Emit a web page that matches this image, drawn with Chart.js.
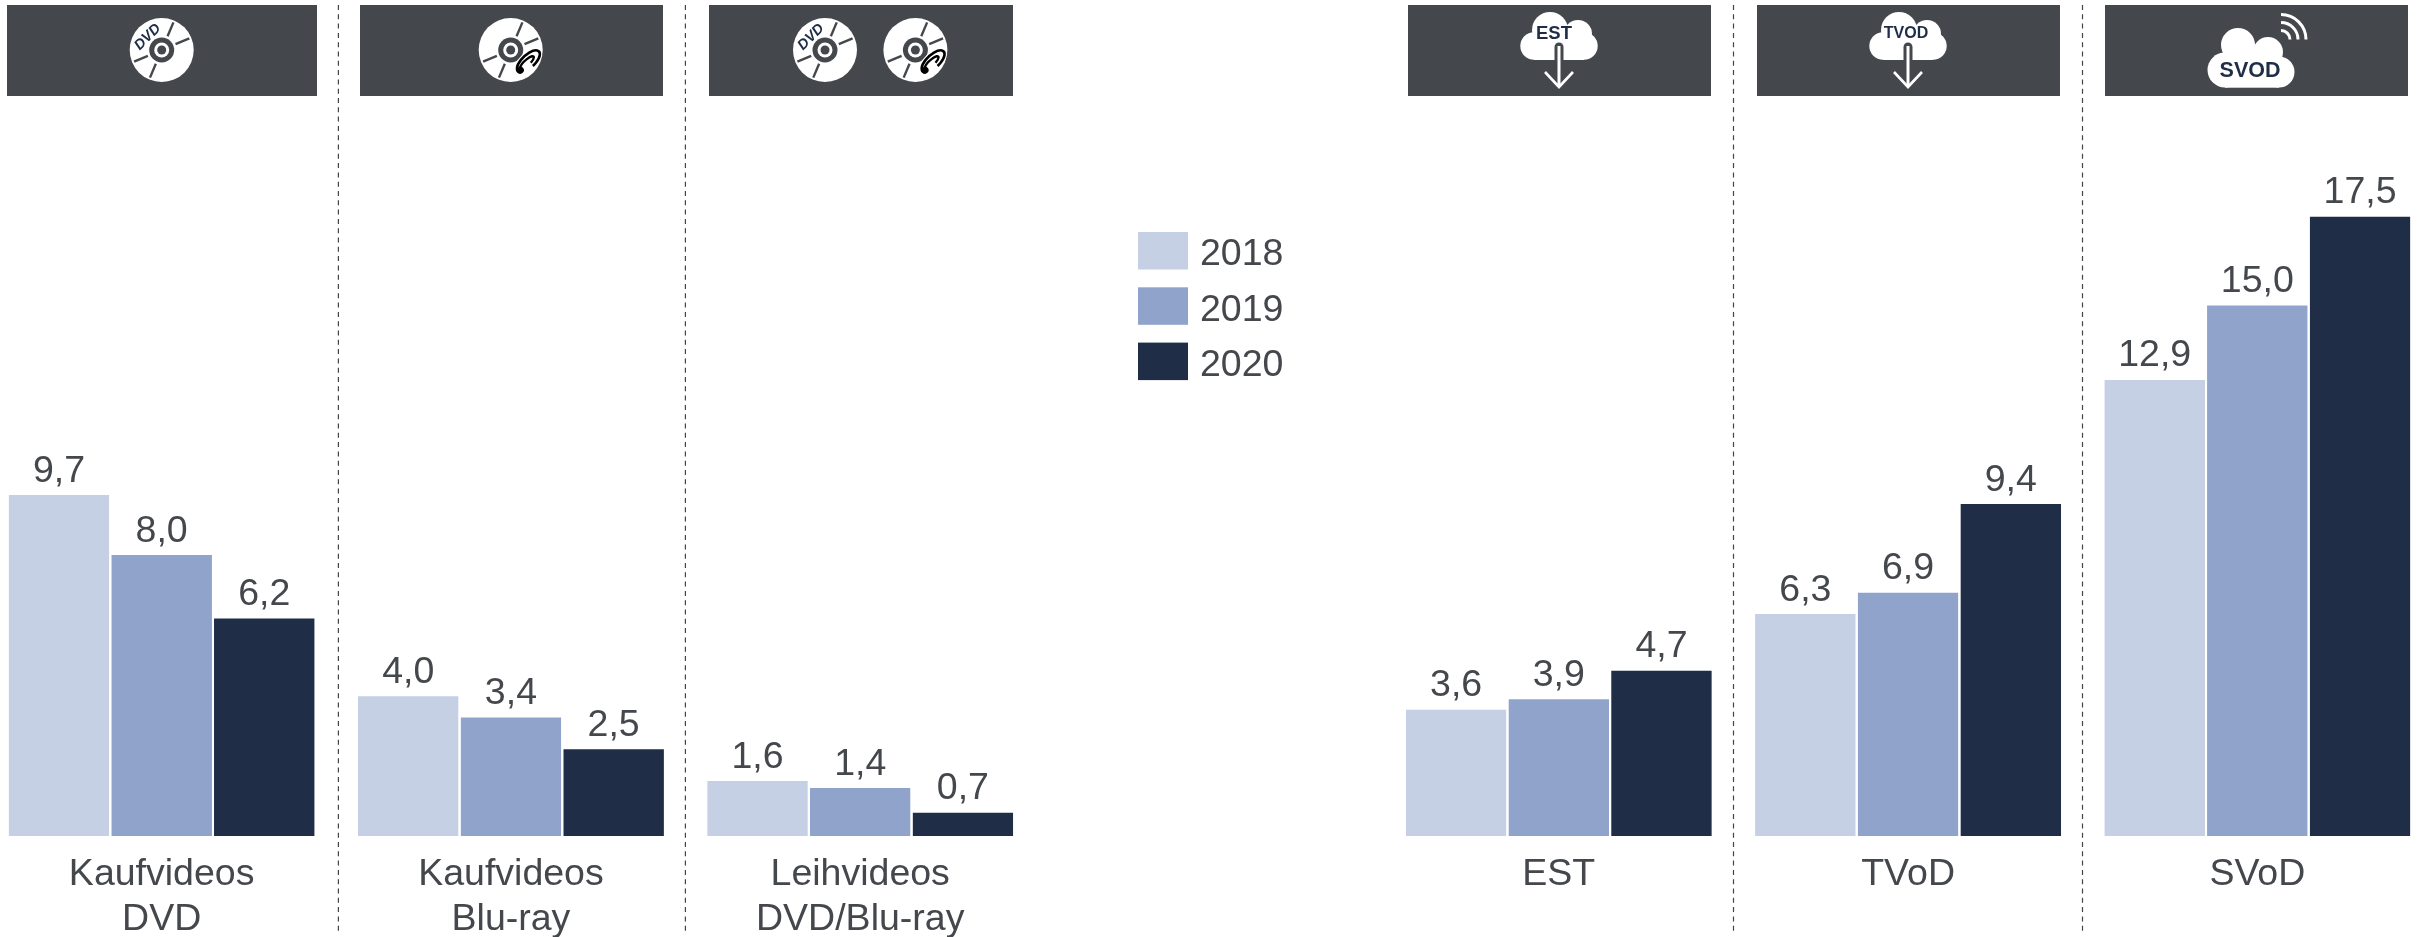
<!DOCTYPE html>
<html>
<head>
<meta charset="utf-8">
<style>
html,body{margin:0;padding:0;background:#fff;overflow:hidden;width:2428px;height:937px}
#wrap{position:absolute;left:-13px;top:0;width:2445px;height:937px}
</style>
<script src="https://cdn.jsdelivr.net/npm/chart.js@4/dist/chart.umd.min.js"></script>
</head>
<body>
<div id="wrap"><canvas id="c" width="2445" height="937"></canvas></div>
<script>
const categories = [["Kaufvideos","DVD"],["Kaufvideos","Blu-ray"],["Leihvideos","DVD/Blu-ray"],"",["EST"],["TVoD"],["SVoD"]];
const seriesNames = ["2018","2019","2020"];
const values2018 = [9.7,4.0,1.6,null,3.6,6.3,12.9];
const values2019 = [8.0,3.4,1.4,null,3.9,6.9,15.0];
const values2020 = [6.2,2.5,0.7,null,4.7,9.4,17.5];

const TXT = '#44474c', DARK = '#44474c', NAVY = '#1f2d47';
const FONT = '"Liberation Sans", Arial, sans-serif';
const colors = ['#c5d0e5','#90a4cb','#1f2d47'];

function disc(ctx, cx, cy, kind){
  ctx.save();
  ctx.translate(cx, cy);
  ctx.fillStyle = '#fff';
  ctx.beginPath(); ctx.arc(0,0,32,0,Math.PI*2); ctx.fill();
  ctx.fillStyle = DARK;
  ctx.beginPath(); ctx.arc(0,0,12.5,0,Math.PI*2); ctx.fill();
  ctx.fillStyle = '#fff';
  ctx.beginPath(); ctx.arc(0,0,7.5,0,Math.PI*2); ctx.fill();
  ctx.fillStyle = DARK;
  ctx.beginPath(); ctx.arc(0,0,4.5,0,Math.PI*2); ctx.fill();
  ctx.strokeStyle = DARK; ctx.lineWidth = 2.4;
  [67,23,247,203].forEach(a=>{
    const r = a*Math.PI/180, c = Math.cos(r), s = -Math.sin(r);
    ctx.beginPath(); ctx.moveTo(c*15,s*15); ctx.lineTo(c*30,s*30); ctx.stroke();
  });
  if(kind==='dvd'){
    ctx.save();
    ctx.translate(-14,-13); ctx.rotate(-Math.PI/4);
    ctx.font = 'italic bold 14.5px '+FONT; ctx.fillStyle = NAVY;
    ctx.textAlign='center'; ctx.textBaseline='middle';
    ctx.fillText('DVD',0,0);
    ctx.restore();
  } else {
    ctx.save();
    ctx.translate(17,12); ctx.rotate(-Math.PI*0.24);
    ctx.fillStyle='#fff';
    ctx.beginPath(); ctx.ellipse(0,0,17,9,0,0,Math.PI*2); ctx.fill();
    ctx.strokeStyle='#000'; ctx.lineWidth=2.6;
    ctx.beginPath(); ctx.ellipse(1,0,14.5,6.5,0,Math.PI*0.9,Math.PI*2.5); ctx.stroke();
    ctx.lineWidth=2.4;
    ctx.beginPath(); ctx.ellipse(-1,0,9,2.8,0,Math.PI*1.1,Math.PI*2.4); ctx.stroke();
    ctx.fillStyle='#000';
    ctx.beginPath(); ctx.ellipse(-11,1,3.5,3.5,0,0,Math.PI*2); ctx.fill();
    ctx.restore();
  }
  ctx.restore();
}

function cloudDown(ctx, cx, label, size, textDx){
  ctx.save();
  ctx.translate(cx, 0);
  ctx.fillStyle = '#fff';
  [[-9,30,18],[19,34,14],[-25,46,13.7],[25,46,13.7]].forEach(c=>{
    ctx.beginPath(); ctx.arc(c[0],c[1],c[2],0,Math.PI*2); ctx.fill();
  });
  ctx.fillRect(-25,34,50,26);
  ctx.strokeStyle = DARK; ctx.lineWidth = 9; ctx.lineCap='round';
  ctx.beginPath(); ctx.moveTo(0,47); ctx.lineTo(0,66); ctx.stroke();
  ctx.strokeStyle = '#fff'; ctx.lineWidth = 3; ctx.lineCap='butt';
  ctx.beginPath(); ctx.moveTo(0,46); ctx.lineTo(0,86); ctx.stroke();
  ctx.lineWidth = 2.6;
  ctx.beginPath(); ctx.moveTo(-14,72); ctx.lineTo(0,87); ctx.lineTo(14,72); ctx.stroke();
  ctx.font = 'bold '+size+'px '+FONT; ctx.fillStyle = NAVY;
  ctx.textAlign='center'; ctx.textBaseline='middle';
  ctx.fillText(label,textDx,33.5);
  ctx.restore();
}

function cloudS(ctx, cx){
  ctx.save();
  ctx.translate(cx, 0);
  ctx.fillStyle = '#fff';
  [[-12,45,17],[18,52,15],[-25,70,17.5],[29,72,15.5]].forEach(c=>{
    ctx.beginPath(); ctx.arc(c[0],c[1],c[2],0,Math.PI*2); ctx.fill();
  });
  ctx.fillRect(-25,60,54,27.7);
  ctx.fillRect(-26,48,50,30);
  ctx.font = 'bold 21.5px '+FONT; ctx.fillStyle = NAVY;
  ctx.textAlign='center'; ctx.textBaseline='middle';
  ctx.fillText('SVOD',0,71);
  ctx.strokeStyle = '#fff'; ctx.lineWidth = 3;
  [9,17,25].forEach(r=>{
    ctx.beginPath(); ctx.arc(31,39.5,r,-Math.PI/2,0); ctx.stroke();
  });
  ctx.restore();
}

const decor = {
  id:'decor',
  beforeDatasetsDraw(chart){
    const ctx = chart.ctx;
    ctx.save();
    ctx.translate(13,0);
    ctx.fillStyle = DARK;
    [[7,310],[360,303],[709,304],[1408,303],[1757,303],[2105,303]].forEach(r=>ctx.fillRect(r[0],5,r[1],91));
    ctx.strokeStyle = '#444'; ctx.lineWidth = 1.2; ctx.setLineDash([5,4.3]);
    [338.4,685.4,1733.5,2082.5].forEach(x=>{
      ctx.beginPath(); ctx.moveTo(x,5); ctx.lineTo(x,935); ctx.stroke();
    });
    ctx.setLineDash([]);
    disc(ctx,161.7,50,'dvd');
    disc(ctx,510.7,50,'br');
    disc(ctx,825,50,'dvd');
    disc(ctx,915.4,50,'br');
    cloudDown(ctx,1559,'EST',18.5,-5);
    cloudDown(ctx,1908,'TVOD',16,-2);
    cloudS(ctx,2250);
    // legend, read from the first three datasets
    ctx.textAlign='left'; ctx.textBaseline='middle';
    ctx.font = '37.5px '+FONT;
    chart.data.datasets.slice(0,3).forEach((d,i)=>{
      const y = 232 + i*55.3;
      ctx.fillStyle = d.backgroundColor;
      ctx.fillRect(1138,y,50,37.5);
      ctx.fillStyle = TXT;
      ctx.fillText(d.label,1200,y+23);
    });
    ctx.restore();
  },
  afterDatasetsDraw(chart){
    const ctx = chart.ctx;
    ctx.save();
    ctx.font = '37.5px '+FONT; ctx.fillStyle = TXT;
    ctx.textAlign='center'; ctx.textBaseline='alphabetic';
    chart.data.datasets.forEach((d,i)=>{
      chart.getDatasetMeta(i).data.forEach((bar,j)=>{
        if(d.data[j]==null) return;
        ctx.fillText(d.data[j].toFixed(1).replace('.',','),bar.x,bar.y-12);
      });
    });
    ctx.restore();
  }
};

// The physical-media panel (left) and the digital panel (right) sit on slightly different scales.
const leftPart = arr => arr.map((v,i)=> i<3 ? v : null);
const rightPart = arr => arr.map((v,i)=> i>3 ? v : null);
const allValues = [values2018,values2019,values2020];
const datasets = [];
[['yL',leftPart],['yR',rightPart]].forEach(([axis,part])=>{
  allValues.forEach((vals,i)=>{
    datasets.push({
      label:seriesNames[i],data:part(vals),backgroundColor:colors[i],
      borderColor:'#ffffff',borderWidth:{top:1.5,left:0,right:0,bottom:0},borderSkipped:false,
      yAxisID:axis,skipNull:true
    });
  });
});

new Chart(document.getElementById('c'),{
  type:'bar',
  data:{labels:categories,datasets},
  options:{
    responsive:false,
    animation:false,
    layout:{padding:0},
    categoryPercentage:0.882,
    barPercentage:0.98,
    plugins:{legend:{display:false},tooltip:{enabled:false},title:{display:false}},
    scales:{
      x:{
        grid:{display:false,drawTicks:false},
        border:{display:false},
        afterFit(s){s.height=101;},
        ticks:{
          autoSkip:false,maxRotation:0,minRotation:0,padding:17,
          color:TXT,
          font:{family:FONT,size:37.5,lineHeight:1.18}
        }
      },
      yL:{display:false,min:0,max:23.68},
      yR:{display:false,min:0,max:23.57}
    }
  },
  plugins:[decor]
});
</script>
</body>
</html>
